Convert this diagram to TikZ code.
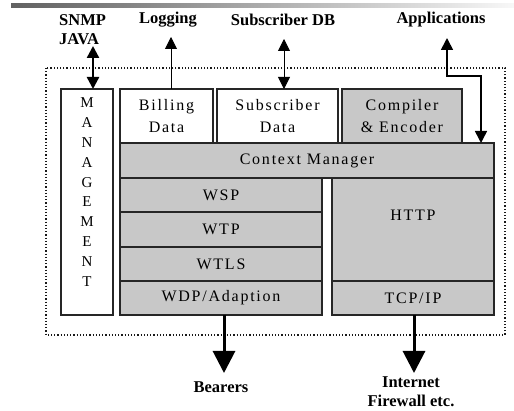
\documentclass[tikz,border=0pt]{standalone}
\usepackage{fontspec}
\setmainfont{Liberation Serif}
\newfontfamily\boxfont[LetterSpace=11]{Liberation Serif}
\usetikzlibrary{arrows.meta}
\tikzset{
  lay/.style={draw=black!85, line width=1.3pt, fill=#1, minimum width=0pt, minimum height=0pt, inner sep=0pt, outer sep=0pt},
  lay/.default=white,
  boxtxt/.style={font=\boxfont\fontsize{16}{22}\selectfont, align=center, inner sep=0pt},
  outlbl/.style={font=\bfseries\fontsize{16.5}{19}\selectfont, inner sep=0pt},
  thin arrow/.style={line width=0.9pt, -{Triangle[width=12pt,length=12pt]}},
  mid arrow/.style={line width=1.6pt, {Triangle[width=12pt,length=12pt]}-{Triangle[width=12pt,length=12pt]}},
  big arrow/.style={line width=3pt, -{Triangle[width=22pt,length=22pt]}},
}
\definecolor{laygray}{RGB}{200,200,200}
\begin{document}
\begin{tikzpicture}[x=1pt,y=-1pt]
\useasboundingbox (0,0) rectangle (514,411);
% top bar
\shade[left color=black!62, right color=black!3] (11,4) rectangle (514,7.5);
% dotted frame
\draw[dotted, line width=1.2pt, black!90] (46,68) rectangle (505,335);
% boxes
\node[lay, minimum width=52pt, minimum height=226pt] (mgmt) at (87,202) {};
\node[boxtxt, font=\boxfont\fontsize{15}{19.8}\selectfont] (mgmttxt) at (87,192) {M\\A\\N\\A\\G\\E\\M\\E\\N\\T};
\node[lay, minimum width=93pt, minimum height=54pt] (billing) at (166.5,116) {};
\node[boxtxt] at (billing) {Billing\\Data};
\node[lay, minimum width=121pt, minimum height=54pt] (subscr) at (277.5,116) {};
\node[boxtxt] at (subscr) {Subscriber\\Data};
\node[lay=laygray, minimum width=120pt, minimum height=54pt] (compiler) at (402,116) {};
\node[boxtxt] at (compiler) {Compiler\\\& Encoder};
\node[lay=laygray, minimum width=374pt, minimum height=35pt] (ctx) at (307,160.5) {};
\node[boxtxt] at (ctx) {Context Manager};
\node[lay=laygray, minimum width=202pt, minimum height=34pt] (wsp) at (221,195) {};
\node[boxtxt] at (wsp) {WSP};
\node[lay=laygray, minimum width=202pt, minimum height=35pt] (wtp) at (221,229.5) {};
\node[boxtxt] at (wtp) {WTP};
\node[lay=laygray, minimum width=202pt, minimum height=34pt] (wtls) at (221,264) {};
\node[boxtxt] at (wtls) {WTLS};
\node[lay=laygray, minimum width=202pt, minimum height=34pt] (wdp) at (221,298) {};
\node[boxtxt] at (wdp) {WDP/Adaption};
\node[lay=laygray, minimum width=162pt, minimum height=103pt] (http) at (413,229.5) {};
\node[boxtxt] at (413,215) {HTTP};
\node[lay=laygray, minimum width=162pt, minimum height=34pt] (tcp) at (413,298) {};
\node[boxtxt] at (tcp) {TCP/IP};
% outside labels
\node[outlbl, align=left, anchor=west] (snmp) at (59,29.5) {SNMP\\JAVA};
\node[outlbl] (logging) at (168,20) {Logging};
\node[outlbl] (subdb) at (283,20) {Subscriber DB};
\node[outlbl] (apps) at (441,20) {Applications};
\node[outlbl] (bearers) at (221,387) {Bearers};
\node[outlbl, align=center] (inet) at (411,392) {Internet\\Firewall etc.};
% connectors
\coordinate (snmpA) at (93,46);
\draw[mid arrow, line width=2.4pt] (snmpA) -- (snmpA |- mgmt.north);
\coordinate (logA) at (171,37);
\draw[thin arrow] (logA |- billing.north) -- (logA);
\coordinate (subA) at (284,39);
\draw[mid arrow, line width=0.9pt] (subA) -- (subA |- subscr.north);
\coordinate (appA) at (447,38);
\coordinate (appB) at (481,76);
\draw[mid arrow] (appA) |- (appB) -- (appB |- ctx.north);
\coordinate (bearA) at (224,373);
\draw[big arrow] (bearA |- wdp.south) -- (bearA);
\coordinate (inetA) at (414,373);
\draw[big arrow] (inetA |- tcp.south) -- (inetA);
\end{tikzpicture}
\end{document}
